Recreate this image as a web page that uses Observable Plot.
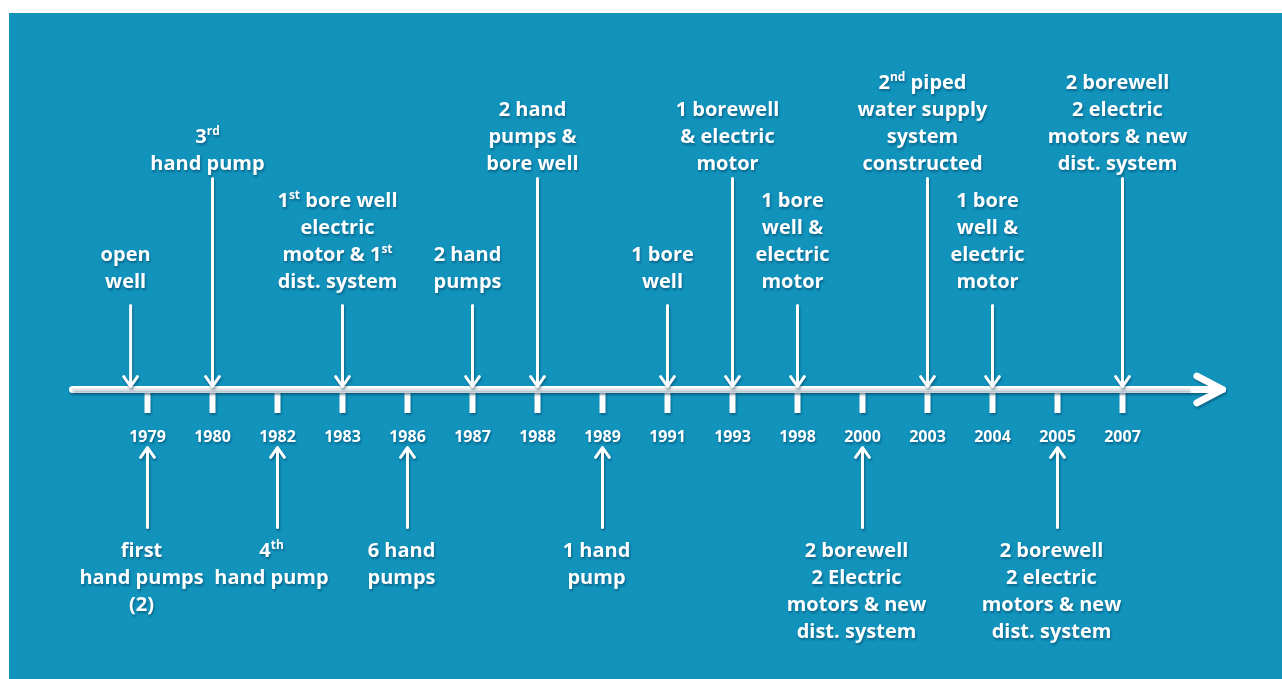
<!DOCTYPE html>
<html><head><meta charset="utf-8">
<script src="https://cdn.jsdelivr.net/npm/d3@7"></script>
<script src="https://cdn.jsdelivr.net/npm/@observablehq/plot@0.6"></script>
<style>
html,body{margin:0;padding:0;background:#fff;}
#chart{position:absolute;left:9px;top:13px;}
#chart svg{display:block;}
#chart svg g[aria-label]{filter:drop-shadow(1px 2px 1.2px rgba(0,45,75,0.45));}
</style></head><body><div id="chart"></div>
<script>
// ---- data ----
const years = ["1979","1980","1982","1983","1986","1987","1988","1989","1991","1993","1998","2000","2003","2004","2005","2007"];

const aboveYears  = ["1979","1980","1983","1987","1988","1991","1993","1998","2003","2004","2007"];
const aboveTiers  = ["short","long","short","short","long","short","long","short","long","short","long"];
const aboveShift  = [-0.26,0,0,0,0,0,0,0,0,0,0]; // "open well" predates 1979
const aboveLabels = [
  "open\nwell",
  "3rd\nhand pump",
  "1st bore well\nelectric\nmotor & 1st\ndist. system",
  "2 hand\npumps",
  "2 hand\npumps &\nbore well",
  "1 bore\nwell",
  "1 borewell\n& electric\nmotor",
  "1 bore\nwell &\nelectric\nmotor",
  "2nd piped\nwater supply\nsystem\nconstructed",
  "1 bore\nwell &\nelectric\nmotor",
  "2 borewell\n2 electric\nmotors & new\ndist. system"
];

const belowYears  = ["1979","1982","1986","1989","2000","2005"];
const belowLabels = [
  "first\nhand pumps\n(2)",
  "4th\nhand pump",
  "6 hand\npumps",
  "1 hand\npump",
  "2 borewell\n2 Electric\nmotors & new\ndist. system",
  "2 borewell\n2 electric\nmotors & new\ndist. system"
];

// ---- layout levels (pixels above the timeline) ----
const L = {tip: 3, short: 84, long: 211, shortText: 102, longText: 220,
           belowTip: -58, belowTail: -138, belowText: -148, yearText: -47, tickBottom: -24};

const above = aboveYears.map((y, i) => ({pos: years.indexOf(y) + aboveShift[i], tier: aboveTiers[i], label: aboveLabels[i]}));
const below = belowYears.map((y, i) => ({pos: years.indexOf(y), label: belowLabels[i]}));
const ticks = years.map((y, i) => ({pos: i, year: y}));
const line = [{x1: -1.154, x2: years.length + 0.54}];

const W = 1273, H = 666;
const svg = Plot.plot({
  width: W, height: H, margin: 0,
  style: {background: "#1193bc", fontFamily: "'Open Sans', sans-serif", overflow: "visible"},
  x: {domain: [0, years.length - 1], range: [138, 1113], axis: null},
  y: {domain: [-290, 376], range: [H, 0], axis: null},
  marks: [
    Plot.ruleX(ticks, {x: "pos", y1: 0, y2: L.tickBottom, stroke: "white", strokeWidth: 6, strokeLinecap: "butt"}),
    Plot.arrow(line, {x1: "x1", x2: "x2", y1: 0, y2: 0, stroke: "white", strokeWidth: 7, headLength: 6.2, headAngle: 55, strokeOpacity: 1}),
    Plot.ruleY(line, {x1: "x1", x2: d => d.x2 - 0.5, y: 0, stroke: "#dde3e6", strokeWidth: 2}),
    Plot.text(ticks, {x: "pos", y: L.yearText, text: "year", fill: "white", fontSize: 16, fontWeight: 700, lineHeight: 1, lineAnchor: "middle"}),
    Plot.arrow(above, {x: "pos", y1: d => d.tier === "long" ? L.long : L.short, y2: L.tip, stroke: "white", strokeWidth: 3, headLength: 6, headAngle: 70}),
    Plot.text(above, {x: "pos", y: d => d.tier === "long" ? L.longText : L.shortText, text: "label", fill: "white", fontSize: 20, fontWeight: 700, lineHeight: 1.35, lineAnchor: "bottom", dx: -5}),
    Plot.arrow(below, {x: "pos", y1: L.belowTail, y2: L.belowTip, stroke: "white", strokeWidth: 3, headLength: 6, headAngle: 70}),
    Plot.text(below, {x: "pos", y: L.belowText, text: "label", fill: "white", fontSize: 20, fontWeight: 700, lineHeight: 1.35, lineAnchor: "top", dx: -6})
  ]
});

// superscript ordinals (1st, 2nd, 3rd, 4th)
const walker = document.createTreeWalker(svg, NodeFilter.SHOW_TEXT);
const nodes = []; while (walker.nextNode()) nodes.push(walker.currentNode);
for (const node of nodes) {
  const s = node.nodeValue; const re = /(\d)(st|nd|rd|th)\b/g;
  if (!re.test(s)) continue; re.lastIndex = 0;
  const frag = document.createDocumentFragment(); let last = 0, m;
  while ((m = re.exec(s))) {
    const cut = m.index + 1;
    frag.appendChild(document.createTextNode(s.slice(last, cut)));
    const sup = document.createElementNS("http://www.w3.org/2000/svg", "tspan");
    sup.setAttribute("baseline-shift", "super");
    sup.setAttribute("font-size", "12");
    sup.textContent = m[2];
    frag.appendChild(sup);
    last = cut + m[2].length;
  }
  frag.appendChild(document.createTextNode(s.slice(last)));
  node.parentNode.replaceChild(frag, node);
}
document.getElementById("chart").appendChild(svg);
</script></body></html>
